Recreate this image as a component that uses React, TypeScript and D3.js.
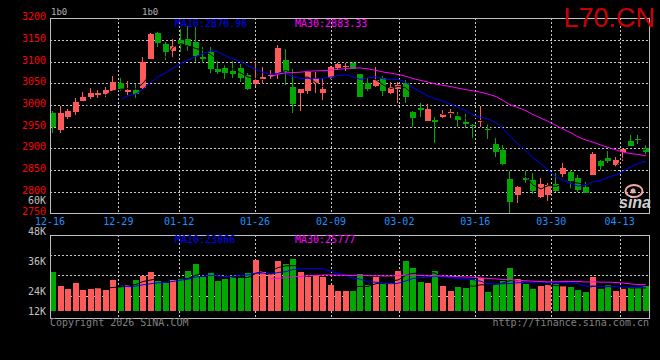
import React from "react";
import * as d3 from "d3";

// ---------- data ----------
const opens = [2982,2942,2973,2984,3009,3018,3024,3025,3033,3051,3031,3034,3040,3107,3165,3141,3124,3151,3152,3145,3111,3123,3084,3086,3079,3086,3069,3049,3059,3066,3071,3104,3041,3028,3033,3051,3028,3063,3086,3088,3098,3071,3051,3044,3063,3028,3038,3050,2983,2994,2964,2965,2973,2980,2975,2961,2954,2960,2945,2910,2896,2829,2792,2832,2828,2788,2792,2818,2841,2846,2831,2810,2838,2871,2878,2861,2892,2917,2921,2900];
const highs = [2985,2998,2991,3016,3030,3039,3035,3041,3067,3062,3055,3048,3111,3165,3169,3145,3152,3175,3182,3181,3134,3134,3102,3092,3102,3095,3074,3101,3088,3081,3138,3129,3082,3037,3077,3075,3063,3089,3096,3098,3100,3072,3062,3087,3068,3052,3054,3058,2986,3004,3004,2973,2988,2990,2983,2979,2957,2998,2955,2924,2908,2848,2814,2848,2842,2831,2819,2843,2867,2850,2838,2822,2891,2874,2894,2879,2900,2931,2931,2908];
const lows = [2936,2936,2968,2978,3009,3014,3015,3018,3033,3032,3023,3015,3038,3106,3133,3104,3111,3123,3125,3100,3098,3074,3072,3060,3063,3052,3034,3044,3049,3059,3059,3046,2982,2987,3025,3028,3011,3058,3081,3078,3082,3019,3032,3042,3021,3025,3005,3005,2950,2973,2964,2912,2969,2971,2950,2948,2924,2950,2922,2881,2861,2749,2773,2819,2794,2785,2778,2800,2834,2809,2800,2796,2838,2850,2867,2858,2871,2906,2910,2888];
const closes = [2950,2982,2986,3007,3019,3028,3028,3035,3053,3038,3035,3025,3100,3164,3144,3123,3136,3140,3137,3114,3107,3084,3077,3074,3071,3062,3038,3058,3065,3070,3131,3077,3002,3036,3076,3063,3037,3088,3095,3091,3083,3019,3038,3058,3033,3041,3046,3019,2971,2988,2991,2961,2979,2984,2965,2957,2951,2964,2942,2892,2864,2775,2810,2827,2801,2817,2815,2801,2854,2825,2803,2798,2888,2859,2871,2873,2898,2906,2919,2892];
const volumes = [31600,26000,24680,27200,24280,24680,24960,24280,28280,25600,26160,28280,30000,31480,27880,26960,28280,29200,32000,34800,29360,31600,27880,28560,29360,29360,31200,36400,32000,30680,35880,34800,36680,31600,29600,30280,29600,26280,23880,23880,23880,30680,26280,29360,26680,27080,31880,35880,33080,27600,27080,31880,25880,23880,25480,25080,28280,29200,23480,26680,27880,33080,28680,26680,24680,26000,26280,26680,25880,25480,24280,23480,29480,24680,26280,23880,24680,25480,25480,25880];

const dateLabels = ["12-16","12-29","01-12","01-26","02-09","03-02","03-16","03-30","04-13"];
const dateIndex = [0,9,17,27,37,46,56,66,75];
const priceTicks = [3200,3150,3100,3050,3000,2950,2900,2850,2800,2750];
const volTicks = [48000,36000,24000,12000];
const volTickLabels = ["48K","36K","24K","12K"];
const priceMaLabels = ["MA10:2870.96","MA30:2883.33"];
const volMaLabels = ["MA10:23866","MA30:25777"];

// ---------- helpers ----------
function movingAvg(arr: number[], n: number): (number | null)[] {
  return arr.map((_, i) => {
    if (i < n - 1) return null;
    let s = 0;
    for (let k = i - n + 1; k <= i; k++) s += arr[k];
    return s / n;
  });
}

const W = 660, H = 360;
const L = 50, R = 650;
const P_TOP = 18.3, P_BOT = 213.3;
const V_TOP = 234.7, V_BOT = 318.3, V_BASE = 310.7;

const UP = "#ff5a5a";
const DOWN = "#00a800";
const GRID = "#c8c8c8";
const MONO = "'DejaVu Sans Mono', monospace";

export default function App() {
  const n = closes.length;
  const x = d3.scaleLinear().domain([0, n]).range([L, R]);
  const xg = d3.scaleLinear().domain([0, n - 1]).range([L, R]);
  const yP = d3.scaleLinear().domain([2750, 3200]).range([P_BOT, P_TOP]);
  const yV = d3.scaleLinear().domain([16000, 48000]).range([V_BASE, 230.7]);

  const cx = (i: number) => Math.round(x(i)) + 3;

  const mkLine = (vals: (number | null)[], y: (v: number) => number) =>
    d3
      .line<number | null>()
      .defined((d) => d !== null)
      .x((_, i) => cx(i))
      .y((d) => y(d as number))(vals) || "";

  const ma5 = movingAvg(closes, 5);
  const ma10 = movingAvg(closes, 10);
  const ma30 = movingAvg(closes, 30);
  const vma5 = movingAvg(volumes, 5);
  const vma10 = movingAvg(volumes, 10);
  const vma30 = movingAvg(volumes, 30);

  const innerPriceTicks = priceTicks.slice(1, -1);
  const volGridYs = d3.range(1, 4).map((k) => V_TOP + ((V_BOT - 2.4 - V_TOP) / 4) * k);

  return (
    <svg
      width={W}
      height={H}
      style={{ position: "absolute", left: 0, top: 0, background: "#000" }}
    >
      <rect x={0} y={0} width={W} height={H} fill="#000" />

      {/* grid */}
      <g stroke={GRID} strokeWidth={1} strokeDasharray="2,2" shapeRendering="crispEdges">
        {innerPriceTicks.map((t) => (
          <line key={t} x1={L} x2={R} y1={Math.round(yP(t)) + 0.5} y2={Math.round(yP(t)) + 0.5} />
        ))}
        {dateIndex.slice(1).map((di) => (
          <line key={"pv" + di} x1={Math.round(xg(di)) + 0.5} x2={Math.round(xg(di)) + 0.5} y1={P_TOP} y2={P_BOT} />
        ))}
        {volGridYs.map((gy, k) => (
          <line key={"vg" + k} x1={L} x2={R} y1={Math.round(gy) + 0.5} y2={Math.round(gy) + 0.5} />
        ))}
        {dateIndex.slice(1).map((di) => (
          <line key={"vv" + di} x1={Math.round(xg(di)) + 0.5} x2={Math.round(xg(di)) + 0.5} y1={V_TOP} y2={V_BOT} />
        ))}
      </g>

      {/* candles */}
      <g shapeRendering="crispEdges">
        {closes.map((c, i) => {
          const o = opens[i];
          const col = c >= o ? UP : DOWN;
          const bx = Math.round(x(i));
          const top = Math.round(yP(Math.max(o, c)));
          const bot = Math.round(yP(Math.min(o, c)));
          const hy = Math.round(yP(highs[i]));
          const ly = Math.min(Math.round(yP(lows[i])), P_BOT);
          return (
            <g key={i}>
              <rect x={bx + 2} y={hy} width={1} height={Math.max(1, ly - hy)} fill={col} />
              <rect x={bx} y={top} width={6} height={Math.max(1, bot - top)} fill={col} />
            </g>
          );
        })}
      </g>

      {/* volume bars */}
      <g shapeRendering="crispEdges">
        {volumes.map((v, i) => {
          const col = closes[i] >= opens[i] ? UP : DOWN;
          const bx = Math.round(x(i));
          const ty = Math.round(yV(v));
          return <rect key={i} x={bx} y={ty} width={6} height={V_BASE - ty} fill={col} />;
        })}
      </g>

      {/* MA lines */}
      <g fill="none" strokeWidth={1}>
        <path d={mkLine(ma5, yP)} stroke="#000" />
        <path d={mkLine(ma10, yP)} stroke="#0000ff" />
        <path d={mkLine(ma30, yP)} stroke="#ff00ff" />
        <path d={mkLine(vma5, yV)} stroke="#000" />
        <path d={mkLine(vma10, yV)} stroke="#0000ff" />
        <path d={mkLine(vma30, yV)} stroke="#ff00ff" />
      </g>

      {/* frames */}
      <g stroke="#c0c0c0" strokeWidth={1} fill="none" shapeRendering="crispEdges">
        <rect x={L + 0.5} y={Math.round(P_TOP) + 0.5} width={R - L - 1} height={Math.round(P_BOT) - Math.round(P_TOP)} />
        <rect x={L + 0.5} y={Math.round(V_TOP) + 0.5} width={R - L - 1} height={Math.round(V_BOT) - Math.round(V_TOP)} />
      </g>

      {/* price axis labels */}
      <g fontFamily={MONO} fontSize={10} fill="#ff0000" textAnchor="end">
        {priceTicks.map((t) => (
          <text key={t} x={46} y={yP(t) + 2}>
            {t}
          </text>
        ))}
      </g>
      <text x={46} y={203.5} fontFamily={MONO} fontSize={10} fill="#c0c0c0" textAnchor="end">
        60K
      </text>

      {/* date labels */}
      <g fontFamily={MONO} fontSize={10} fill="#1e90ff" textAnchor="middle">
        {dateLabels.map((d, k) => (
          <text key={d} x={xg(dateIndex[k])} y={224.5}>
            {d}
          </text>
        ))}
      </g>

      {/* volume axis labels */}
      <g fontFamily={MONO} fontSize={10} fill="#c0c0c0" textAnchor="end">
        {volTicks.map((t, k) => (
          <text key={t} x={46} y={Math.min(yV(t), V_BASE) + 4}>
            {volTickLabels[k]}
          </text>
        ))}
      </g>

      {/* MA labels */}
      <g fontFamily={MONO} fontSize={10}>
        <text x={175} y={27} fill="#0000ff">{priceMaLabels[0]}</text>
        <text x={295} y={27} fill="#ff00ff">{priceMaLabels[1]}</text>
        <text x={175} y={242.5} fill="#0000ff">{volMaLabels[0]}</text>
        <text x={295} y={242.5} fill="#ff00ff">{volMaLabels[1]}</text>
      </g>

      {/* header */}
      <g fontFamily={MONO} fontSize={9} fill="#b0b0b0">
        <text x={51} y={15}>1b0</text>
        <text x={142} y={15}>1b0</text>
      </g>
      <text x={655} y={27} textAnchor="end" fontFamily="'Liberation Sans', Arial, sans-serif" fontSize={27} fill="#cc0000">
        L70.CN
      </text>

      {/* watermark */}
      <g>
        <ellipse cx={634} cy={191} rx={8.5} ry={6} fill="none" stroke="#f0a8a8" strokeWidth={2} />
        <circle cx={633} cy={191} r={2.5} fill="#f0a8a8" />
        <text x={619} y={208} fontFamily="'Liberation Sans', sans-serif" fontStyle="italic" fontWeight="bold" fontSize={16} fill="#d0d0d0">
          sina
        </text>
      </g>

      {/* footer */}
      <g fontFamily={MONO} fontSize={10} fill="#808080">
        <text x={50} y={326}>Copyright 2026 SINA.COM</text>
        <text x={649} y={326} textAnchor="end">http://finance.sina.com.cn</text>
      </g>
    </svg>
  );
}
